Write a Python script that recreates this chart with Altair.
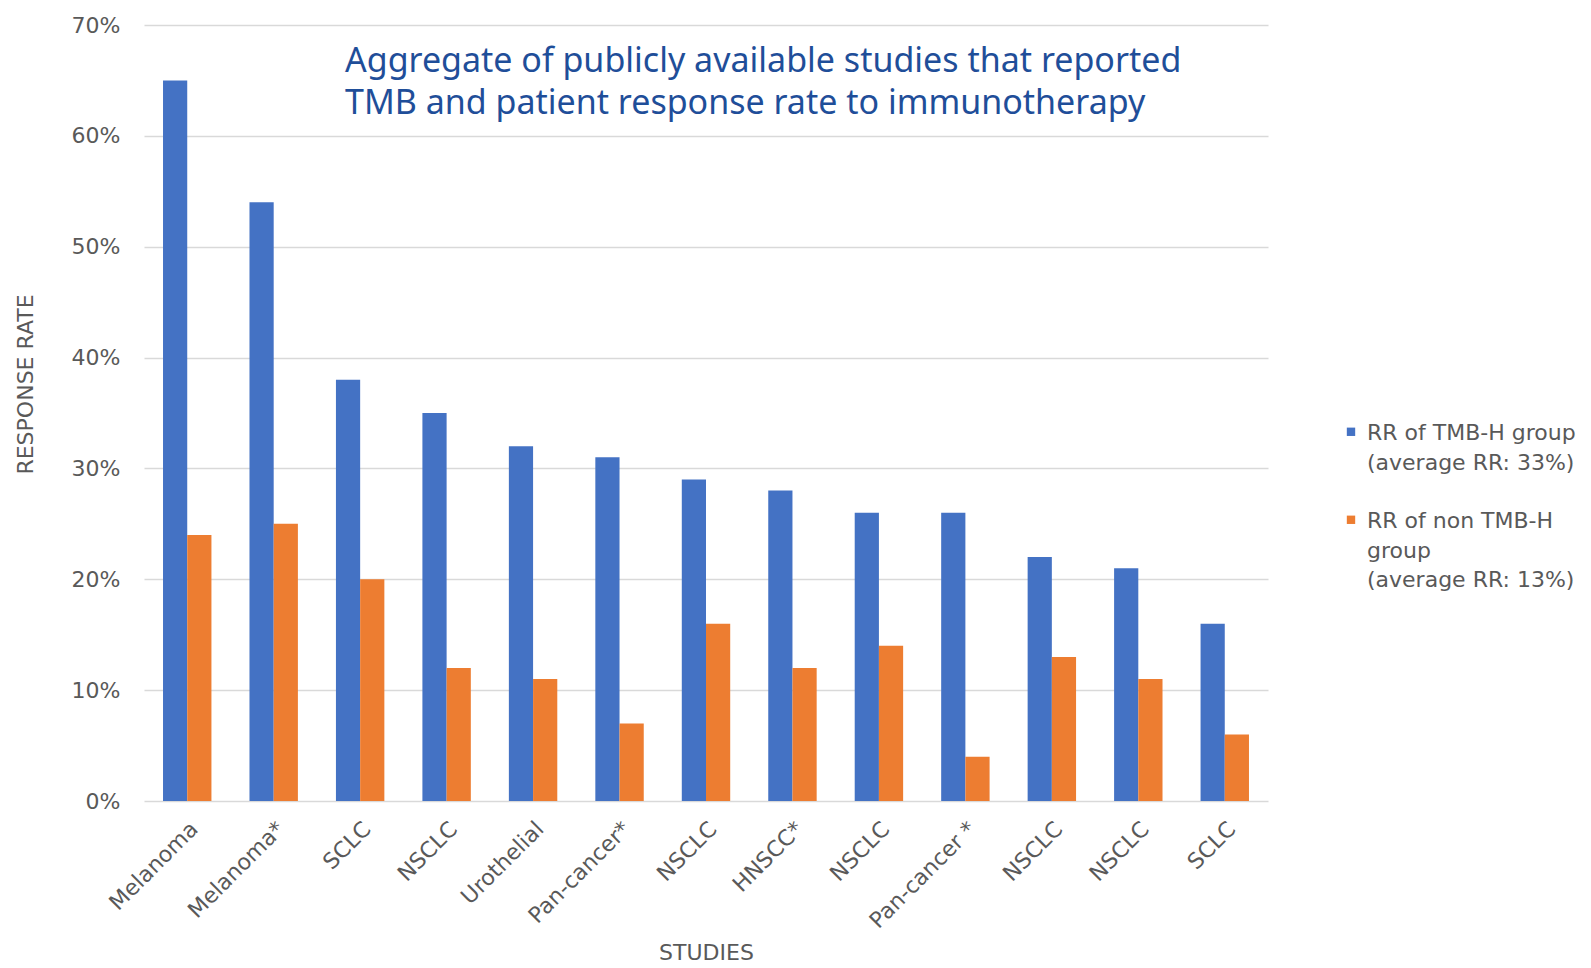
import json
import altair as alt
import pandas as pd

studies = ["Melanoma", "Melanoma*", "SCLC", "NSCLC", "Urothelial", "Pan-cancer*",
           "NSCLC", "HNSCC*", "NSCLC", "Pan-cancer *", "NSCLC", "NSCLC", "SCLC"]
tmb_high = [65, 54, 38, 35, 32, 31, 29, 28, 26, 26, 22, 21, 16]
tmb_non = [24, 25, 20, 12, 11, 7, 16, 12, 14, 4, 13, 11, 6]
series_names = ["TMB-H", "non TMB-H"]
legend_lines = [["RR of TMB-H group", "(average RR: 33%)"],
                ["RR of non TMB-H", "group", "(average RR: 13%)"]]
y_ticks = [0, 0.1, 0.2, 0.3, 0.4, 0.5, 0.6, 0.7]
title_lines = ["Aggregate of publicly available studies that reported",
               "TMB and patient response rate to immunotherapy"]

rows = []
for i, s in enumerate(studies):
    key = f"{i:02d}"
    rows.append({"key": key, "series": series_names[0], "value": tmb_high[i] / 100})
    rows.append({"key": key, "series": series_names[1], "value": tmb_non[i] / 100})
df = pd.DataFrame(rows)
keys = [f"{i:02d}" for i in range(len(studies))]

label_expr = json.dumps(studies) + "[toNumber(datum.value)]"
legend_expr = (f"datum.label == '{series_names[0]}' ? " + json.dumps(legend_lines[0])
               + " : " + json.dumps(legend_lines[1]))

W, H = 1124, 776
font = "DejaVu Sans"
grey = "#595959"

bars = alt.Chart(df).mark_bar().encode(
    x=alt.X("key:N", sort=keys,
            scale=alt.Scale(paddingInner=0.44, paddingOuter=0.22),
            axis=alt.Axis(title="STUDIES", labelAngle=-45, labelExpr=label_expr,
                          labelFont=font, labelFontSize=22, labelColor=grey,
                          labelPadding=17, domain=False, ticks=False, grid=False,
                          titleFont=font, titleFontSize=22, titleFontWeight="normal",
                          titleColor=grey, titleY=151, titleBaseline="middle")),
    xOffset=alt.XOffset("series:N", sort=series_names, scale=alt.Scale(paddingInner=0)),
    y=alt.Y("value:Q", scale=alt.Scale(domain=[0, 0.7], nice=False),
            axis=alt.Axis(title="RESPONSE RATE", format=".0%", values=y_ticks,
                          labelFont=font, labelFontSize=22, labelColor=grey,
                          labelPadding=24, domain=False, ticks=False,
                          gridColor="#d9d9d9", gridWidth=1.5,
                          titleFont=font, titleFontSize=22, titleFontWeight="normal",
                          titleColor=grey, titleX=-119, titleY=359,
                          titleBaseline="middle")),
    color=alt.Color("series:N", sort=series_names,
                    scale=alt.Scale(domain=series_names, range=["#4472C4", "#ED7D31"]),
                    legend=alt.Legend(title=None, orient="none", legendX=1196, legendY=387,
                                      labelExpr=legend_expr, labelFont=font,
                                      labelFontSize=22, labelColor=grey, labelLimit=0,
                                      symbolType="M-1,1.1H1V3.1H-1Z", symbolSize=70,
                                      symbolStrokeWidth=0, rowPadding=26,
                                      labelBaseline="top", labelOffset=5)),
)

title_df = pd.DataFrame({"t": ["\n".join(title_lines)]})
title = alt.Chart(title_df).mark_text(
    align="left", baseline="alphabetic", font="Noto Sans", fontSize=34,
    color="#1F4E99", lineBreak="\n", lineHeight=42,
).encode(x=alt.value(201), y=alt.value(47), text="t:N")

chart = alt.layer(bars, title).properties(
    width=W, height=H,
    autosize=alt.AutoSizeParams(type="none"),
    padding={"left": 144, "top": 25, "right": 323, "bottom": 167},
).configure(
    view={"strokeWidth": 0},
    style={"guide-label": {"lineHeight": 29.5}},
)

chart.save("out.html", embed_options={"renderer": "svg", "actions": False})
